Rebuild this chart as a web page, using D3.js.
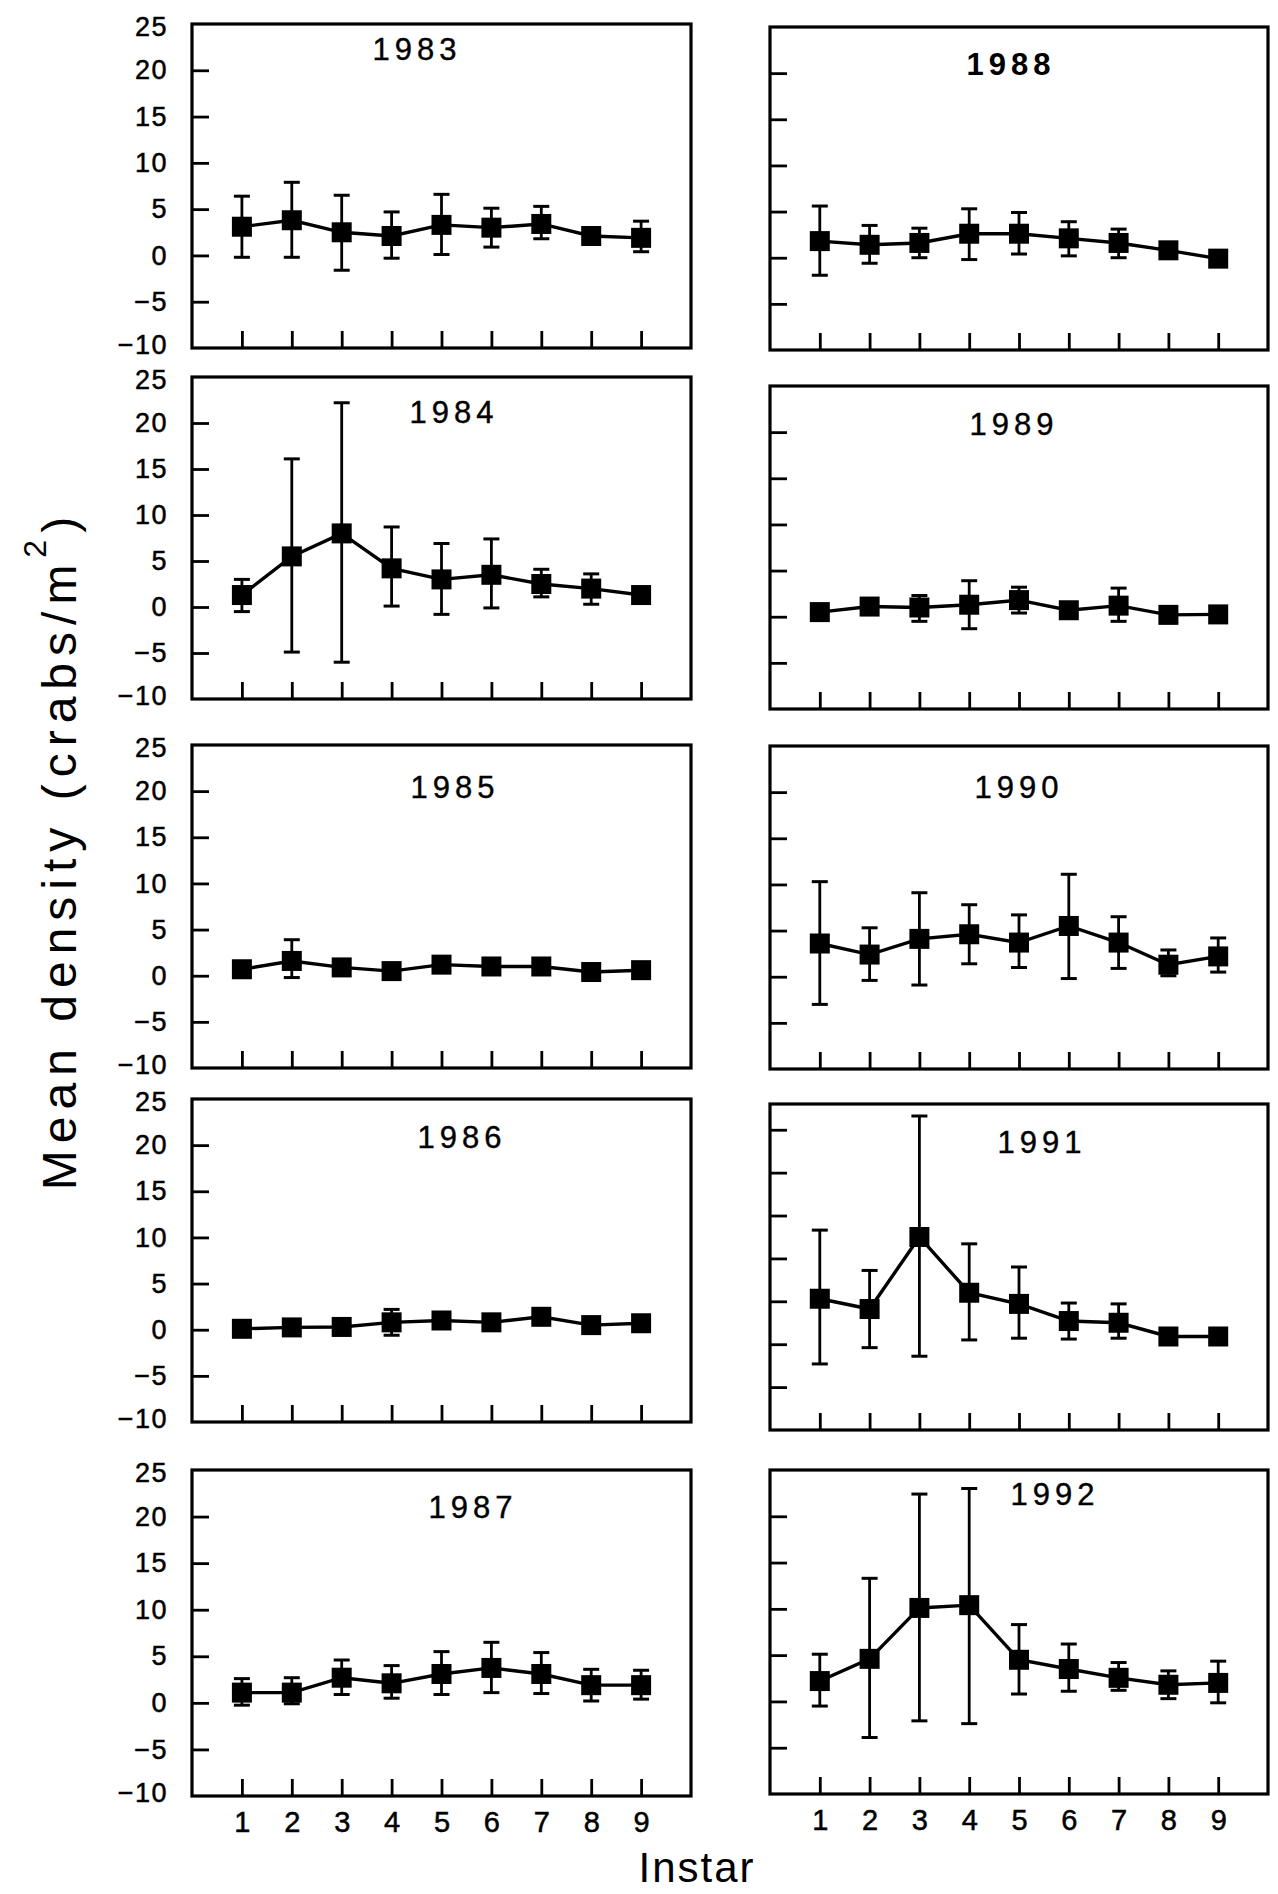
<!DOCTYPE html>
<html><head><meta charset="utf-8">
<script src="https://cdn.jsdelivr.net/npm/d3@7"></script>
<style>
body{margin:0;background:#fff}
svg{display:block}
text{font-family:"Liberation Sans",Arial,sans-serif;fill:#000}
</style>
</head><body>
<svg id="c" width="1278" height="1894"></svg>
<script>
// ---------------- data ----------------
const years = [1983, 1984, 1985, 1986, 1987, 1988, 1989, 1990, 1991, 1992];
const instars = [1, 2, 3, 4, 5, 6, 7, 8, 9];
const xTickLabels = ["1", "2", "3", "4", "5", "6", "7", "8", "9"];
const yTickValues = [25, 20, 15, 10, 5, 0, -5, -10];
const yTickLabels = ["25", "20", "15", "10", "5", "0", "\u22125", "\u221210"];
const xTitle = "Instar";
const yTitle = "Mean density (crabs/m";

// mean density per instar, one row per year (same order as `years`)
const meanDensity = [
  [3.1, 3.8, 2.5, 2.1, 3.3, 3.0, 3.4, 2.1, 1.9],   // 1983
  [1.3, 5.5, 8.0, 4.2, 3.0, 3.5, 2.5, 2.0, 1.3],   // 1984
  [0.7, 1.6, 0.9, 0.5, 1.2, 1.0, 1.0, 0.4, 0.6],   // 1985
  [0.1, 0.25, 0.3, 0.8, 1.0, 0.8, 1.4, 0.5, 0.7],  // 1986
  [1.1, 1.1, 2.7, 2.1, 3.1, 3.75, 3.1, 1.9, 1.9],  // 1987
  [1.8, 1.4, 1.6, 2.6, 2.6, 2.1, 1.6, 0.8, -0.1],  // 1988
  [0.5, 1.1, 1.0, 1.3, 1.8, 0.7, 1.2, 0.2, 0.25],  // 1989
  [3.6, 2.4, 4.1, 4.6, 3.7, 5.5, 3.7, 1.3, 2.2],   // 1990
  [5.3, 4.1, 12.5, 6.0, 4.7, 2.7, 2.5, 0.9, 0.9],  // 1991
  [2.2, 4.6, 10.1, 10.4, 4.5, 3.5, 2.55, 1.8, 2.0] // 1992
];
// upper end of error bar (null = bar hidden by marker)
const upperBar = [
  [6.4, 7.9, 6.5, 4.7, 6.6, 5.1, 5.3, null, 3.7],
  [3.0, 16.1, 22.2, 8.7, 6.9, 7.4, 4.1, 3.6, null],
  [null, 3.9, null, null, null, null, null, null, null],
  [null, null, null, 2.2, null, null, null, null, null],
  [2.6, 2.7, 4.6, 4.0, 5.5, 6.5, 5.4, 3.6, 3.5],
  [5.6, 3.5, 3.2, 5.3, 4.9, 3.9, 3.1, null, null],
  [null, null, 2.3, 3.9, 3.2, null, 3.1, null, null],
  [10.3, 5.3, 9.1, 7.8, 6.7, 11.1, 6.5, 2.9, 4.2],
  [13.3, 8.6, 26.6, 11.7, 9.0, 4.8, 4.7, null, null],
  [5.1, 13.3, 22.4, 23.0, 8.3, 6.2, 4.2, 3.3, 4.35]
];
// lower end of error bar
const lowerBar = [
  [-0.2, -0.2, -1.6, -0.3, 0.1, 0.9, 1.8, null, 0.4],
  [-0.5, -4.9, -6.0, 0.1, -0.8, -0.1, 1.1, 0.3, null],
  [null, -0.2, null, null, null, null, null, null, null],
  [null, null, null, -0.6, null, null, null, null, null],
  [-0.25, -0.1, 0.9, 0.5, 0.9, 1.1, 1.0, 0.2, 0.4],
  [-1.9, -0.6, 0.0, -0.2, 0.4, 0.2, 0.0, null, null],
  [null, null, -0.5, -1.3, 0.4, null, -0.5, null, null],
  [-3.0, -0.4, -0.9, 1.4, 1.0, -0.2, 0.9, 0.1, 0.5],
  [-2.3, -0.4, -1.4, 0.5, 0.7, 0.6, 0.7, null, null],
  [-0.5, -3.9, -2.1, -2.4, 0.8, 1.1, 1.2, 0.3, -0.15]
];

// ---------------- layout ----------------
const L = {x0: 192, x1: 691}, R = {x0: 770, x1: 1268};
const layout = [
  {col: L, y0: 24,   y1: 348,  top: 25, tx: 417,  ty: 60},
  {col: L, y0: 377,  y1: 699,  top: 25, tx: 454,  ty: 423},
  {col: L, y0: 745,  y1: 1068, top: 25, tx: 455,  ty: 798},
  {col: L, y0: 1099, y1: 1422, top: 25, tx: 462,  ty: 1148},
  {col: L, y0: 1470, y1: 1796, top: 25, tx: 473,  ty: 1518},
  {col: R, y0: 27,   y1: 350,  top: 25, tx: 1011, ty: 75, bold: true},
  {col: R, y0: 386,  y1: 709,  top: 25, tx: 1014, ty: 435},
  {col: R, y0: 746,  y1: 1069, top: 25, tx: 1019, ty: 798},
  {col: R, y0: 1104, y1: 1430, top: 28, tx: 1042, ty: 1153},
  {col: R, y0: 1470, y1: 1794, top: 25, tx: 1055, ty: 1505}
];

const svg = d3.select("#c");
const TICK = 17;
const FONT = "'Liberation Sans',Arial,sans-serif";

years.forEach((yr, i) => {
  const p = layout[i];
  const g = svg.append("g");
  const x = d3.scaleLinear().domain([0, 10]).range([p.col.x0, p.col.x1]);
  const y = d3.scaleLinear().domain([-10, p.top]).range([p.y1, p.y0]);

  // inner y ticks
  const yInner = d3.range(-5, p.top, 5);
  const ya = g.append("g").attr("transform", `translate(${p.col.x0},0)`)
    .call(d3.axisRight(y).tickValues(yInner).tickSize(TICK).tickFormat(""));
  ya.select(".domain").remove();
  ya.selectAll("line").attr("stroke", "#000").attr("stroke-width", 2.8);

  // inner x ticks
  const xa = g.append("g").attr("transform", `translate(0,${p.y1})`)
    .call(d3.axisTop(x).tickValues(instars).tickSize(TICK).tickFormat(""));
  xa.select(".domain").remove();
  xa.selectAll("line").attr("stroke", "#000").attr("stroke-width", 2.8);

  // y labels on left column
  if (p.col === L) {
    const yl = g.append("g").attr("transform", `translate(${p.col.x0},0)`)
      .call(d3.axisLeft(y).tickValues(yTickValues).tickSize(0).tickPadding(24)
        .tickFormat((d, k) => yTickLabels[k]));
    yl.select(".domain").remove();
    yl.selectAll("text").attr("font-size", 27).attr("letter-spacing", 1.5)
      .attr("font-family", FONT).attr("fill", "#000")
      .attr("stroke", "#000").attr("stroke-width", 0.5)
      .attr("dy", d => d === 25 ? "0.42em" : d === -10 ? "0.22em" : "0.32em");
  }
  // x labels on bottom row
  if (i === 4 || i === 9) {
    const xl = g.append("g").attr("transform", `translate(0,${p.y1})`)
      .call(d3.axisBottom(x).tickValues(instars).tickSize(0).tickPadding(15)
        .tickFormat((d, k) => xTickLabels[k]));
    xl.select(".domain").remove();
    xl.selectAll("text").attr("font-size", 29)
      .attr("font-family", FONT).attr("fill", "#000")
      .attr("stroke", "#000").attr("stroke-width", 0.5);
  }

  // frame
  g.append("rect")
    .attr("x", p.col.x0).attr("y", p.y0)
    .attr("width", p.col.x1 - p.col.x0).attr("height", p.y1 - p.y0)
    .attr("fill", "none").attr("stroke", "#000").attr("stroke-width", 3.2);

  // year title
  g.append("text").attr("x", p.tx).attr("y", p.ty)
    .attr("text-anchor", "middle").attr("font-size", 31)
    .attr("letter-spacing", 5)
    .attr("font-weight", p.bold ? "bold" : "normal")
    .attr("stroke", "#000").attr("stroke-width", p.bold ? 0 : 0.4)
    .text(yr);

  const pts = instars.map((n, k) => ({n, m: meanDensity[i][k], hi: upperBar[i][k], lo: lowerBar[i][k]}));

  // connecting line
  g.append("path").datum(pts)
    .attr("d", d3.line().x(d => x(d.n)).y(d => y(d.m)))
    .attr("fill", "none").attr("stroke", "#000").attr("stroke-width", 3.4);

  // error bars
  const eb = pts.filter(d => d.hi !== null);
  const cap = 8;
  g.selectAll(".ev").data(eb).enter().append("line")
    .attr("x1", d => x(d.n)).attr("x2", d => x(d.n))
    .attr("y1", d => y(d.hi)).attr("y2", d => y(d.lo))
    .attr("stroke", "#000").attr("stroke-width", 2.8);
  g.selectAll(".ct").data(eb).enter().append("line")
    .attr("x1", d => x(d.n) - cap).attr("x2", d => x(d.n) + cap)
    .attr("y1", d => y(d.hi)).attr("y2", d => y(d.hi))
    .attr("stroke", "#000").attr("stroke-width", 3);
  g.selectAll(".cb").data(eb).enter().append("line")
    .attr("x1", d => x(d.n) - cap).attr("x2", d => x(d.n) + cap)
    .attr("y1", d => y(d.lo)).attr("y2", d => y(d.lo))
    .attr("stroke", "#000").attr("stroke-width", 3);

  // square markers
  const S = 20;
  g.selectAll(".sq").data(pts).enter().append("rect")
    .attr("x", d => x(d.n) - S / 2).attr("y", d => y(d.m) - S / 2)
    .attr("width", S).attr("height", S).attr("fill", "#000");
});

// axis titles
svg.append("text")
  .attr("transform", "translate(76,850) rotate(-90)")
  .attr("text-anchor", "middle").attr("font-size", 48).attr("letter-spacing", 7)
  .call(t => {
    t.append("tspan").text(yTitle);
    t.append("tspan").attr("font-size", 32).attr("dy", -30).text("2");
    t.append("tspan").attr("dy", 30).text(")");
  });

svg.append("text").attr("x", 697).attr("y", 1882)
  .attr("text-anchor", "middle").attr("font-size", 42).attr("letter-spacing", 2)
  .text(xTitle);
</script>
</body></html>
